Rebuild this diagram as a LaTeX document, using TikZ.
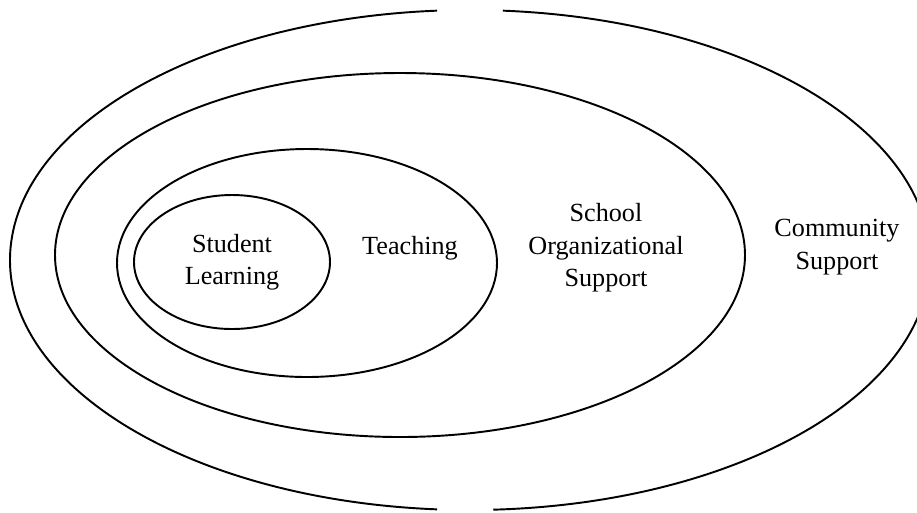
\documentclass[tikz,border=0pt]{standalone}
\usepackage{fontspec}
\setmainfont{Liberation Serif}
\begin{document}
\begin{tikzpicture}[x=0.02cm,y=-0.02cm,
    ring/.style={line width=1.1pt,black},
    tag/.style={align=center,font=\fontsize{14.9}{18.4}\selectfont}]
  \useasboundingbox (0,0) rectangle (917,512);
  \clip (0,0) rectangle (917,512);
  % outer ring, broken at top and bottom
  \draw[ring] ([shift={(274.1:460 and 250)}]470,260) arc[start angle=274.1, end angle=447.1, x radius=460, y radius=250];
  \draw[ring] ([shift={(94.1:460 and 250)}]470,260) arc[start angle=94.1, end angle=265.9, x radius=460, y radius=250];
  \draw[ring] (400,255) ellipse[x radius=345, y radius=182];
  \draw[ring] (307,263) ellipse[x radius=190, y radius=114];
  \draw[ring] (232,262) ellipse[x radius=98, y radius=67];
  \node[tag] (learning) at (232,262) {Student\\Learning};
  \node[tag] (teaching) at (410,248) {Teaching};
  \node[tag] (school) at (606,248) {School\\Organizational\\Support};
  \node[tag] (community) at (837,247) {Community\\Support};
\end{tikzpicture}
\end{document}
